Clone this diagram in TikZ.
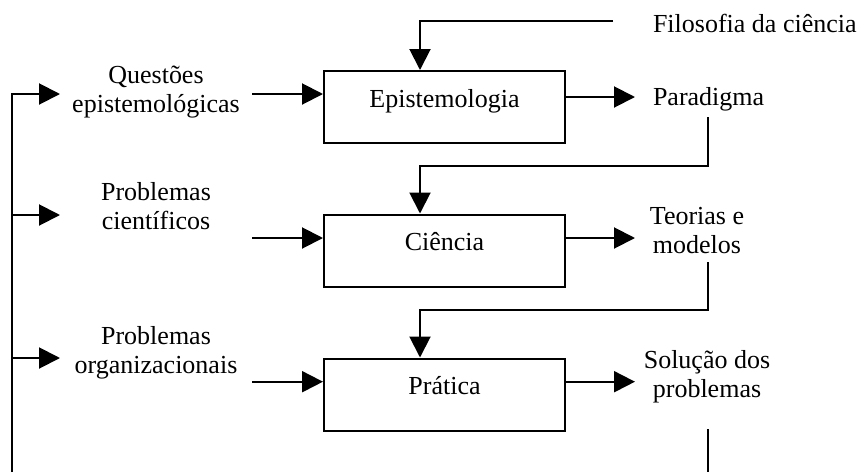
\documentclass[tikz,border=0pt]{standalone}
\usepackage{fontspec}
\setmainfont{Liberation Serif}
\usetikzlibrary{arrows.meta}
\begin{document}
\begin{tikzpicture}[x=1pt,y=-1pt,
  line width=2pt,
  font=\fontsize{26}{29}\selectfont,
  arr/.style={-{Triangle[length=21pt,width=21pt]}},
  procbox/.style={draw, line width=2pt, minimum width=241pt, inner xsep=0pt, inner ysep=0pt, text height=36pt, text depth=36pt, anchor=north},
  lbl/.style={inner sep=0pt, align=center},
]
\useasboundingbox (0,0) rectangle (863,472);
% process boxes
\node[procbox] (epi) at (444.5,70) {Epistemologia};
\node[procbox] (cie) at (444.5,213.5) {Ciência};
\node[procbox] (pra) at (444.5,357.5) {Prática};
% labels
\node[lbl, anchor=base west] (fil) at (652,32) {Filosofia da ciência};
\node[lbl, anchor=base west] (par) at (652,105) {Paradigma};
\node[lbl, anchor=base] (teo) at (697,253) {Teorias e\\modelos};
\node[lbl, anchor=base] (sol) at (707,397) {Solução dos\\problemas};
\node[lbl, anchor=base] (que) at (156,112) {Questões\\epistemológicas};
\node[lbl, anchor=base] (pc) at (156,229) {Problemas\\científicos};
\node[lbl, anchor=base] (po) at (156,373) {Problemas\\organizacionais};
% coordinates
\coordinate (f0) at (613,21);
\coordinate (p0) at (708,117);
\coordinate (p1) at (708,166);
\coordinate (t0) at (708,262);
\coordinate (t1) at (708,310);
\coordinate (s0) at (708,429);
\coordinate (s1) at (708,472);
\coordinate (b0) at (12,94);
\coordinate (b1) at (12,215);
\coordinate (b2) at (12,358);
\coordinate (b3) at (12,472);
\coordinate (qa) at (60,94);
\coordinate (pa) at (60,215);
\coordinate (oa) at (60,358);
\coordinate (qi) at (252,94);
\coordinate (ci) at (252,238);
\coordinate (pi) at (252,381.7);
\coordinate (eo) at (635,97);
\coordinate (co) at (635,238);
\coordinate (po2) at (635,381.7);
% connectors
\draw[arr] (f0) -| ([xshift=97pt]epi.north west);
\draw[arr] (p0) -- (p1) -| ([xshift=97pt]cie.north west);
\draw[arr] (t0) -- (t1) -| ([xshift=97pt]pra.north west);
\draw (s0) -- (s1);
\draw[arr] (b3) |- (qa);
\draw[arr] (b1) -- (pa);
\draw[arr] (b2) -- (oa);
\draw[arr] (qi) -- (epi.west |- qi);
\draw[arr] (ci) -- (cie.west |- ci);
\draw[arr] (pi) -- (pra.west |- pi);
\draw[arr] (epi.east |- eo) -- (eo);
\draw[arr] (cie.east |- co) -- (co);
\draw[arr] (pra.east |- po2) -- (po2);
\end{tikzpicture}
\end{document}
